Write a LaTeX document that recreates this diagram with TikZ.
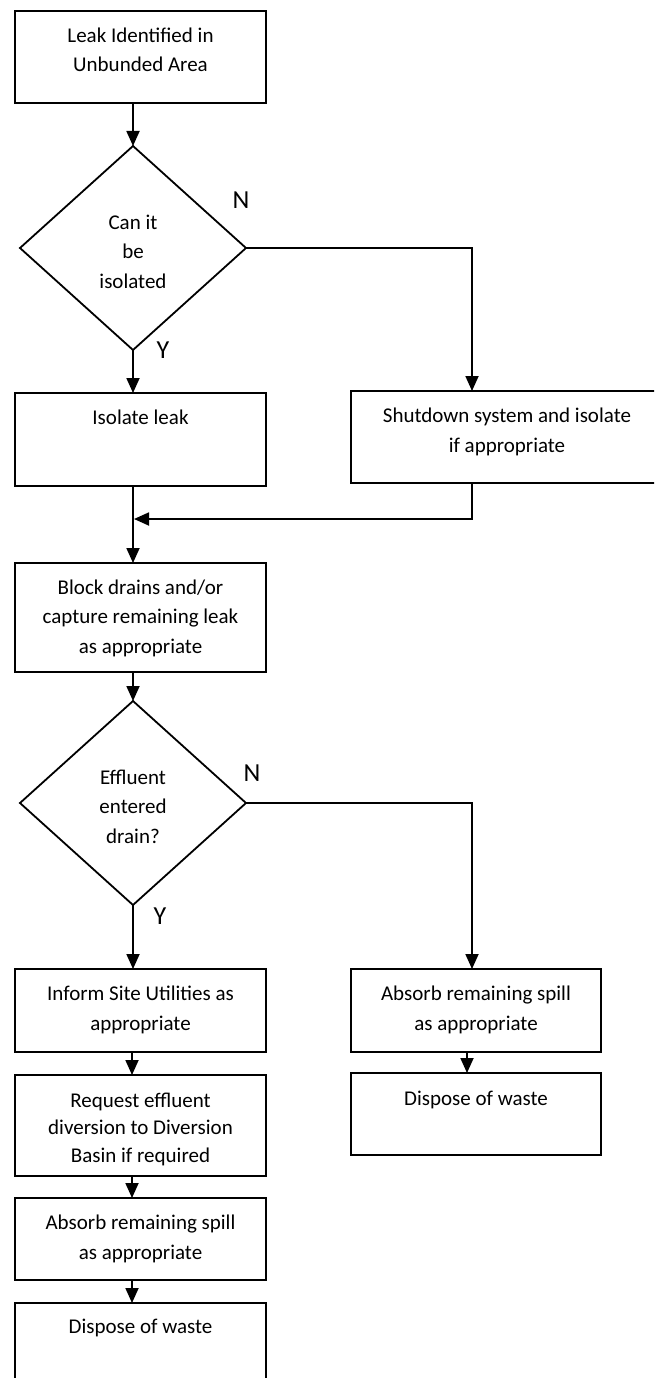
\documentclass[tikz,border=0pt]{standalone}
\usepackage{fontspec}
\setmainfont{Carlito}
\usetikzlibrary{arrows.meta,shapes.geometric}
\begin{document}
\begin{tikzpicture}[x=1pt,y=-1pt,
  line width=1.8pt,
  flowbox/.style={draw, rectangle, inner sep=0pt, outer sep=0pt, anchor=north west},
  decision/.style={draw, diamond, inner sep=0pt, outer sep=0pt,
    minimum width=226pt, minimum height=204pt},
  % anchored at the baseline of the last line
  boxtext/.style={anchor=base, align=center, inner sep=0pt,
    font=\fontsize{21}{29.5}\selectfont},
  yn/.style={inner sep=0pt, font=\fontsize{26}{30}\selectfont},
  flow/.style={-{Triangle[length=15pt,width=13pt]}},
]
\useasboundingbox (0,0) rectangle (654,1378);
\clip (0,0) rectangle (654,1378);

% guide columns for the vertical connectors
\coordinate (lx) at (133,0);
\coordinate (lx2) at (132,0);
\coordinate (rx) at (472,0);
\coordinate (rx2) at (467,0);
\coordinate (mj) at (134,519);

% boxes
\node[flowbox, minimum width=251pt, minimum height=92pt]  (leak)     at (15,11)   {};
\node[decision] (isoq) at (133,248) {};
\node[flowbox, minimum width=251pt, minimum height=93pt]  (isolate)  at (15,393)  {};
\node[flowbox, minimum width=312pt, minimum height=92pt]  (shutdown) at (351,391) {};
\node[flowbox, minimum width=251pt, minimum height=109pt] (block)    at (15,563)  {};
\node[decision] (drainq) at (133,803) {};
\node[flowbox, minimum width=251pt, minimum height=83pt]  (inform)   at (15,969)  {};
\node[flowbox, minimum width=251pt, minimum height=101pt] (divert)   at (15,1075) {};
\node[flowbox, minimum width=251pt, minimum height=82pt]  (absorbL)  at (15,1198) {};
\node[flowbox, minimum width=251pt, minimum height=100pt] (disposeL) at (15,1303) {};
\node[flowbox, minimum width=250pt, minimum height=83pt]  (absorbR)  at (351,969) {};
\node[flowbox, minimum width=250pt, minimum height=82pt]  (disposeR) at (351,1073) {};

% texts
\node[boxtext] at ([yshift=-61pt]leak.north) {Leak Identified in\\Unbunded Area};
\node[boxtext] at ([yshift=-40pt]isoq.center) {Can it\\be\\isolated};
\node[boxtext] at ([yshift=-31pt]isolate.north) {Isolate leak};
\node[boxtext] at ([yshift=-61pt]shutdown.north) {Shutdown system and isolate\\if appropriate};
\node[boxtext] at ([yshift=-90pt]block.north) {Block drains and/or\\capture remaining leak\\as appropriate};
\node[boxtext] at ([yshift=-40pt]drainq.center) {Effluent\\entered\\drain?};
\node[boxtext] at ([yshift=-61pt]inform.north) {Inform Site Utilities as\\appropriate};
\node[boxtext, font=\fontsize{21}{27.5}\selectfont] at ([yshift=-87pt]divert.north) {Request effluent\\diversion to Diversion\\Basin if required};
\node[boxtext] at ([yshift=-61pt]absorbL.north) {Absorb remaining spill\\as appropriate};
\node[boxtext] at ([yshift=-30pt]disposeL.north) {Dispose of waste};
\node[boxtext] at ([yshift=-61pt]absorbR.north) {Absorb remaining spill\\as appropriate};
\node[boxtext] at ([yshift=-32pt]disposeR.north) {Dispose of waste};

% branch labels
\node[yn] (n1) at (241,200) {N};
\node[yn] (y1) at (163,350) {Y};
\node[yn] (n2) at (252,773) {N};
\node[yn] (y2) at (160,916) {Y};

% connectors
\draw[flow] (lx |- leak.south) -- (isoq.north);
\draw[flow] (isoq.south) -- (lx |- isolate.north);
\draw[flow] (isoq.east) -| (rx |- shutdown.north);
\draw[flow] (lx |- isolate.south) -- (lx |- block.north);
\draw[flow] (rx |- shutdown.south) |- (mj);
\draw[flow] (lx |- block.south) -- (drainq.north);
\draw[flow] (drainq.south) -- (lx |- inform.north);
\draw[flow] (drainq.east) -| (rx |- absorbR.north);
\draw[flow] (lx2 |- inform.south) -- (lx2 |- divert.north);
\draw[flow] (lx2 |- divert.south) -- (lx2 |- absorbL.north);
\draw[flow] (lx2 |- absorbL.south) -- (lx2 |- disposeL.north);
\draw[flow] (rx2 |- absorbR.south) -- (rx2 |- disposeR.north);
\end{tikzpicture}
\end{document}
